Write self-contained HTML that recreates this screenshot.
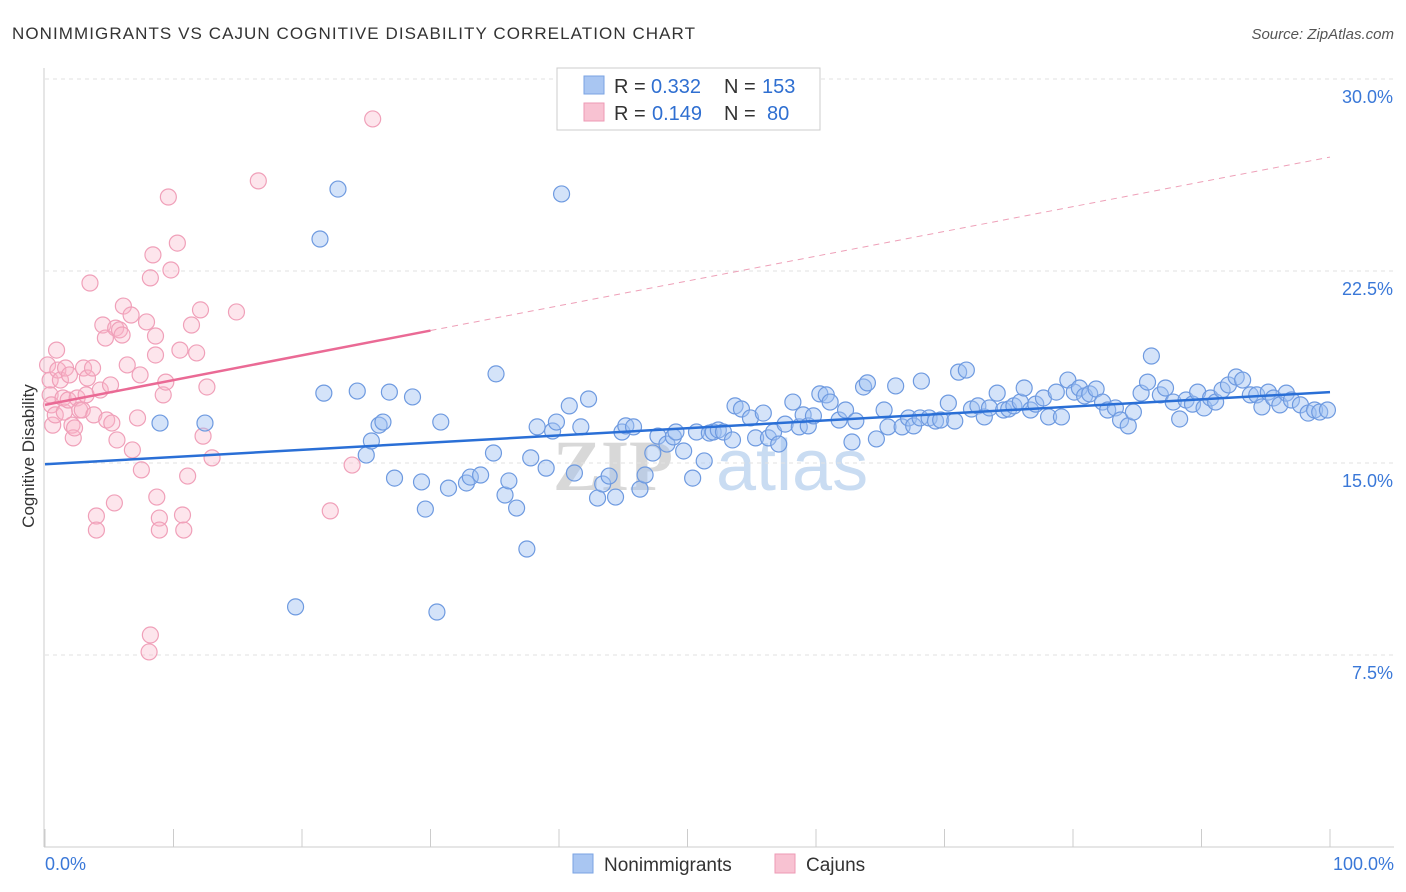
<!DOCTYPE html>
<html><head><meta charset="utf-8"><style>
body{margin:0;background:#fff;font-family:"Liberation Sans",sans-serif;}
#wrap{position:relative;width:1406px;height:892px;overflow:hidden;}
</style></head><body>
<div id="wrap">
<svg id="svg" width="1406" height="892" xmlns="http://www.w3.org/2000/svg" font-family="Liberation Sans, sans-serif">
<text x="12" y="39" font-size="17" fill="#333" textLength="683" lengthAdjust="spacing">NONIMMIGRANTS VS CAJUN COGNITIVE DISABILITY CORRELATION CHART</text>
<text x="1394" y="39" font-size="15" fill="#555" font-style="italic" text-anchor="end">Source: ZipAtlas.com</text>
<g><text x="553" y="490" font-size="72" fill="#d8d8d8" font-weight="bold" font-family="Liberation Serif, serif">ZIP</text><text x="716" y="490" font-size="72" fill="#c9dcf2">atlas</text></g>
<g id="grid"></g><g id="axes"></g><g id="pink"></g><g id="blue"></g><g id="lines"></g>
<text transform="translate(34,456) rotate(-90)" font-size="17" fill="#333" text-anchor="middle">Cognitive Disability</text>
<g font-size="20">
<rect x="557" y="68" width="263" height="62" fill="#fff" stroke="#ccc"/>
<rect x="584" y="76" width="20" height="18" fill="#a9c6f2" stroke="#7aa3e3"/>
<text x="614" y="93" fill="#333">R =</text><text x="651" y="93" fill="#2f6fd1">0.332</text>
<text x="724" y="93" fill="#333">N =</text><text x="762" y="93" fill="#2f6fd1">153</text>
<rect x="584" y="103" width="20" height="18" fill="#f8c2d2" stroke="#ee9ab4"/>
<text x="614" y="120" fill="#333">R =</text><text x="652" y="120" fill="#2f6fd1">0.149</text>
<text x="724" y="120" fill="#333">N =</text><text x="767" y="120" fill="#2f6fd1">80</text>
</g>
<g>
<rect x="573" y="854" width="20" height="19" fill="#a9c6f2" stroke="#7aa3e3"/>
<text x="604" y="871" font-size="19" fill="#333">Nonimmigrants</text>
<rect x="775" y="854" width="20" height="19" fill="#f8c2d2" stroke="#ee9ab4"/>
<text x="806" y="871" font-size="19" fill="#333">Cajuns</text>
</g>
</svg></div>
<script>
const blueX=[8.95,12.45,19.5,21.4,21.7,22.8,24.3,25.0,25.4,26.0,26.3,26.8,27.2,28.6,29.3,29.6,30.5,30.8,31.4,32.8,33.1,33.9,34.9,35.1,35.8,36.1,36.7,37.5,37.8,38.3,39.0,39.5,39.8,40.2,40.8,41.2,41.7,42.3,43.0,43.4,43.9,44.4,44.9,45.2,45.8,46.3,46.7,47.3,47.7,48.4,48.9,49.1,49.7,50.4,50.7,51.3,51.7,52.0,52.4,52.8,53.5,53.7,54.2,54.9,55.3,55.9,56.3,56.7,57.1,57.6,58.2,58.7,59.0,59.4,59.8,60.3,60.8,61.1,61.8,62.3,62.8,63.1,63.7,64.0,64.7,65.3,65.6,66.2,66.7,67.2,67.6,68.1,68.2,68.8,69.3,69.7,70.3,70.8,71.1,71.7,72.1,72.6,73.1,73.5,74.1,74.6,75.0,75.4,75.9,76.2,76.7,77.1,77.7,78.1,78.7,79.1,79.6,80.1,80.5,80.9,81.3,81.8,82.3,82.7,83.3,83.7,84.3,84.7,85.3,85.8,86.1,86.8,87.2,87.8,88.3,88.8,89.3,89.7,90.2,90.7,91.1,91.6,92.1,92.7,93.2,93.8,94.3,94.7,95.2,95.6,96.1,96.6,97.0,97.7,98.3,98.8,99.2,99.8];
const blueY=[16.56,16.56,9.38,23.75,17.73,25.70,17.81,15.31,15.86,16.48,16.60,17.77,14.41,17.58,14.26,13.20,9.18,16.60,14.02,14.22,14.45,14.53,15.39,18.48,13.75,14.30,13.24,11.64,15.20,16.41,14.80,16.25,16.60,25.51,17.23,14.61,16.41,17.50,13.63,14.18,14.49,13.67,16.21,16.45,16.41,13.98,14.53,15.39,16.05,15.74,16.02,16.21,15.47,14.41,16.21,15.08,16.17,16.21,16.29,16.21,15.90,17.23,17.11,16.76,15.98,16.95,15.98,16.21,15.74,16.52,17.38,16.41,16.88,16.45,16.84,17.70,17.66,17.38,16.68,17.07,15.82,16.64,17.97,18.13,15.94,17.07,16.41,18.01,16.41,16.76,16.45,16.76,18.20,16.76,16.64,16.68,17.34,16.64,18.55,18.63,17.11,17.23,16.80,17.15,17.73,17.07,17.11,17.23,17.38,17.93,17.07,17.30,17.54,16.80,17.77,16.80,18.24,17.77,17.93,17.62,17.70,17.89,17.38,17.07,17.15,16.68,16.45,16.99,17.73,18.16,19.18,17.66,17.93,17.38,16.72,17.46,17.30,17.77,17.15,17.54,17.38,17.85,18.05,18.36,18.24,17.66,17.66,17.19,17.77,17.54,17.27,17.73,17.46,17.27,16.95,17.07,16.99,17.07];
const pinkX=[0.2,0.4,0.4,0.5,0.6,0.8,0.9,1.0,1.2,1.4,1.5,1.6,1.8,1.9,2.1,2.2,2.3,2.5,2.7,2.9,3.0,3.2,3.3,3.5,3.7,3.8,4.0,4.0,4.3,4.5,4.7,4.8,5.1,5.2,5.4,5.5,5.6,5.8,6.0,6.1,6.4,6.7,6.8,7.2,7.4,7.5,7.9,8.1,8.2,8.2,8.4,8.6,8.6,8.7,8.9,8.9,9.2,9.4,9.6,9.8,10.3,10.5,10.7,10.8,11.1,11.4,11.8,12.1,12.3,12.6,13.0,14.9,16.6,22.2,23.9,25.5];
const pinkY=[18.83,18.24,17.66,17.27,16.48,16.88,19.41,18.63,18.24,17.54,16.99,18.71,17.46,18.44,16.48,15.98,16.37,17.54,17.07,17.07,18.71,17.66,18.32,22.03,18.71,16.88,12.93,12.38,17.85,20.39,19.88,16.68,18.05,16.56,13.44,20.27,15.90,20.20,20.00,21.13,18.83,20.78,15.51,16.76,18.44,14.73,20.51,7.62,22.23,8.28,23.13,19.22,19.96,13.67,12.85,12.38,17.66,18.16,25.39,22.54,23.59,19.41,12.97,12.38,14.49,20.39,19.30,20.98,16.05,17.97,15.20,20.90,26.02,13.13,14.92,28.44];
const yTicks=[7.5,15.0,22.5,30.0];
const xTickLabels=["0.0%","100.0%"];
const blueTrend=[14.95,17.77];
const pinkTrend=[17.27,26.95];
const pinkSolidEnd=30;
const NS="http://www.w3.org/2000/svg";
const sx=v=>45+v*12.85, sy=v=>847-v*25.6;
function mk(tag,attrs,parent){const e=document.createElementNS(NS,tag);for(const k in attrs)e.setAttribute(k,attrs[k]);document.getElementById(parent).appendChild(e);return e;}
yTicks.forEach(t=>{
 const g=mk('line',{x1:45,x2:1394,y1:sy(t),y2:sy(t),stroke:'#e2e2e2','stroke-dasharray':'4,4'},'grid');
 
 
 const l=mk('text',{x:1393,y:sy(t)+24,'font-size':18,fill:'#3a78d8','text-anchor':'end'},'grid');
 l.textContent=t.toFixed(1)+'%';
 
 
});
const ax=mk('line',{x1:44,x2:44,y1:68,y2:847,stroke:'#ccc'},'axes');


const xa=mk('line',{x1:44,x2:1394,y1:847,y2:847,stroke:'#ccc'},'axes');


for(let i=0;i<=10;i++){const t=mk('line',{x1:sx(i*10),x2:sx(i*10),y1:829,y2:847,stroke:'#ccc'},'axes');
 
 }
[[0,'start',45],[100,'end',1394]].forEach((d,i)=>{const t=mk('text',{x:d[2],y:870,'font-size':18,fill:'#3a78d8','text-anchor':d[1]},'axes');t.textContent=xTickLabels[i];
 
 });
pinkX.forEach((x,i)=>{const c=mk('circle',{cx:sx(x),cy:sy(pinkY[i]),r:8,fill:'rgba(248,180,200,0.35)',stroke:'#f0a0b9','stroke-width':1.2},'pink');
 
 });
blueX.forEach((x,i)=>{const c=mk('circle',{cx:sx(x),cy:sy(blueY[i]),r:8,fill:'rgba(160,192,242,0.45)',stroke:'#6e9ae0','stroke-width':1.2},'blue');
 
 });
const pAt=x=>pinkTrend[0]+(pinkTrend[1]-pinkTrend[0])*x/100;
const bl=mk('line',{x1:sx(0),y1:sy(blueTrend[0]),x2:sx(100),y2:sy(blueTrend[1]),stroke:'#2a6fd6','stroke-width':2.5},'lines');


const ps=mk('line',{x1:sx(0),y1:sy(pAt(0)),x2:sx(pinkSolidEnd),y2:sy(pAt(pinkSolidEnd)),stroke:'#ea6a95','stroke-width':2.5},'lines');


const pd=mk('line',{x1:sx(pinkSolidEnd),y1:sy(pAt(pinkSolidEnd)),x2:sx(100),y2:sy(pAt(100)),stroke:'#eea0b8','stroke-width':1,'stroke-dasharray':'6,5'},'lines');


</script>
</body></html>
